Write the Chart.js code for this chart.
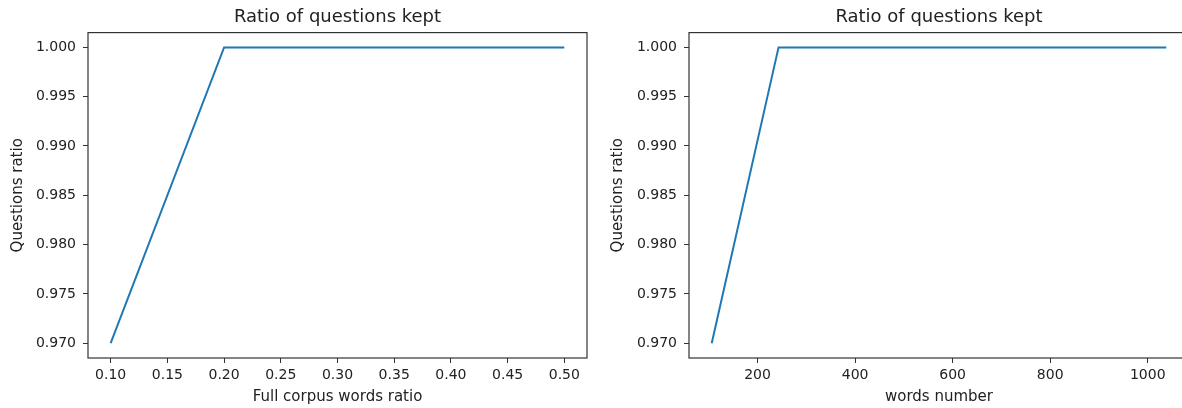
<!DOCTYPE html>
<html>
<head>
<meta charset="utf-8">
<script src="https://cdn.jsdelivr.net/npm/chart.js@4/dist/chart.umd.min.js"></script>
<style>
  html, body { margin: 0; padding: 0; background: #fff; }
  body { width: 1182px; height: 408px; overflow: hidden; position: relative; }
  canvas { position: absolute; top: 0; }
</style>
</head>
<body>
<canvas id="ratioChart" width="600" height="408" style="left:0px"></canvas>
<canvas id="wordsChart" width="600" height="408" style="left:600px"></canvas>
<script>
// data
const corpusRatio = [0.1, 0.2, 0.3, 0.4, 0.5];
const wordsNumber = [106, 243, 455, 720, 1038];
const questionsKept = [0.970, 1.0, 1.0, 1.0, 1.0];

const ratioTicks = [0.10, 0.15, 0.20, 0.25, 0.30, 0.35, 0.40, 0.45, 0.50];
const wordsTicks = [200, 400, 600, 800, 1000];
const yTicks = [0.970, 0.975, 0.980, 0.985, 0.990, 0.995, 1.000];

const FONT = 'DejaVu Sans';
const textColor = '#222';
const spineColor = '#333';

// draws the box round the plot like matplotlib spines
const frame = {
    id: 'frame',
    afterDraw(chart) {
        const a = chart.chartArea;
        const c = chart.ctx;
        c.save();
        c.strokeStyle = spineColor;
        c.lineWidth = 1.2;
        c.strokeRect(a.left, a.top, a.right - a.left, a.bottom - a.top);
        c.restore();
    }
};

function makeChart(id, xs, xTicks, xMin, xMax, xTitle, xFmt, yWidth, padRight) {
    const ctx = document.getElementById(id).getContext('2d');
    return new Chart(ctx, {
        type: 'line',
        data: {
            datasets: [{
                data: xs.map((x, i) => ({ x: x, y: questionsKept[i] })),
                borderColor: '#1f77b4',
                borderWidth: 2,
                pointRadius: 0,
                tension: 0,
                fill: false
            }]
        },
        options: {
            responsive: false,
            animation: false,
            events: [],
            layout: { padding: { left: 0, right: padRight, top: 0, bottom: 0 } },
            plugins: {
                legend: { display: false },
                tooltip: { enabled: false },
                title: {
                    display: true,
                    text: 'Ratio of questions kept',
                    fullSize: false,
                    color: textColor,
                    font: { family: FONT, size: 18, weight: 'normal' },
                    padding: { top: 7, bottom: 4 }
                }
            },
            scales: {
                x: {
                    type: 'linear',
                    min: xMin,
                    max: xMax,
                    afterBuildTicks: (s) => { s.ticks = xTicks.map(v => ({ value: v })); },
                    afterFit: (s) => { s.height = 50; },
                    grid: { drawOnChartArea: false, drawTicks: true, tickLength: 5, color: spineColor },
                    border: { display: false },
                    ticks: {
                        color: textColor,
                        font: { family: FONT, size: 14 },
                        padding: 4,
                        maxRotation: 0,
                        autoSkip: false,
                        callback: xFmt
                    },
                    title: {
                        display: true,
                        text: xTitle,
                        color: textColor,
                        font: { family: FONT, size: 15 },
                        padding: { top: 0, bottom: 2 }
                    }
                },
                y: {
                    type: 'linear',
                    min: 0.9685,
                    max: 1.0015,
                    afterBuildTicks: (s) => { s.ticks = yTicks.map(v => ({ value: v })); },
                    afterFit: (s) => { s.width = yWidth; },
                    grid: { drawOnChartArea: false, drawTicks: true, tickLength: 5, color: spineColor },
                    border: { display: false },
                    ticks: {
                        color: textColor,
                        font: { family: FONT, size: 14 },
                        padding: 7,
                        autoSkip: false,
                        callback: (v) => Number(v).toFixed(3)
                    },
                    title: {
                        display: true,
                        text: 'Questions ratio',
                        color: textColor,
                        font: { family: FONT, size: 15 },
                        padding: { top: 9, bottom: 0 }
                    }
                }
            }
        },
        plugins: [frame]
    });
}

makeChart('ratioChart', corpusRatio, ratioTicks, 0.08, 0.52,
    'Full corpus words ratio', (v) => Number(v).toFixed(2), 88, 13);
makeChart('wordsChart', wordsNumber, wordsTicks, 59.4, 1084.6,
    'words number', (v) => String(v), 89, 11);
</script>
</body>
</html>
